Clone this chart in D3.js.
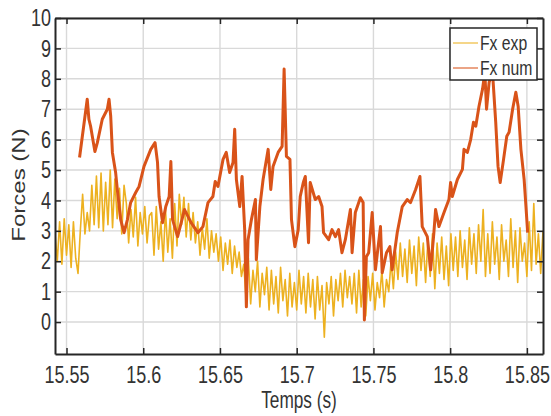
<!DOCTYPE html>
<html lang="en">
<head>
<meta charset="UTF-8">
<title>Forces Fx exp / Fx num</title>
<script src="https://d3js.org/d3.v7.min.js"></script>
<style>
    body { margin: 0; background: #fff; font-family: "Liberation Sans", Arial, sans-serif; }
    .grid line { stroke: #d9d9d9; stroke-width: 1.4; }
    .axis path, .axis line { stroke: #262626; }
    .axis text { font-size: 24px; fill: #333; font-family: "Liberation Sans", Arial, sans-serif; }
</style>
</head>
<body>
<svg id="chart" width="551" height="416"></svg>
<script>
// tick values
const xTicks = [15.55, 15.6, 15.65, 15.7, 15.75, 15.8, 15.85];
const yTicks = [0, 1, 2, 3, 4, 5, 6, 7, 8, 9, 10];
const seriesNames = ["Fx exp", "Fx num"];
const seriesColors = ["#EDB120", "#D95319"];

// Fx exp : sampled every expStep seconds from expStart
const expStart = 15.5425, expStep = 0.0015;
const expForce = [
    2.9, 2.0, 3.3, 1.9, 3.4, 2.2, 3.2, 1.8, 3.3, 2.1, 1.6,
    3.0, 4.2, 2.9, 3.6, 3.0, 4.5, 3.2, 4.8, 3.1,
    4.9, 3.0, 4.6, 3.2, 5.0, 3.1, 4.7, 3.4, 4.4, 2.9, 4.5,
    3.9, 2.6, 3.7, 2.8, 4.1, 2.5, 3.6, 2.9, 3.8, 2.6, 3.5,
    3.6, 2.2, 3.8, 2.4, 3.3, 2.0, 3.7, 2.3, 3.4, 2.1, 3.9, 2.5, 4.2,
    3.2, 4.1, 2.8, 3.9, 2.7, 3.6, 2.6,
    3.3, 2.2, 3.1, 2.4, 3.4, 2.1, 3.0, 2.3, 2.9,
    2.0, 2.8, 1.7, 2.6, 1.9, 2.7, 1.6, 2.5, 1.8, 2.3, 1.5,
    1.9, 0.8, 2.1, 0.6, 1.7, 1.0, 2.0, 0.5, 1.6, 0.9, 1.8,
    0.4, 1.7, 0.6, 1.5, 0.3, 1.8, 0.7, 1.4, 0.2, 1.6, 0.5, 1.3, 0.4, 1.7, 0.6, 1.5,
    0.3, 1.6, 0.5, 1.4, 0.1, 1.5, 0.4, 1.2, -0.5, 1.3, 0.6, 1.5, 0.2, 1.4, 0.7, 1.6, 0.5, 1.7, 0.8, 1.5,
    0.6, 1.6, 0.3, 1.7, 0.5, 1.4, 0.2, 1.5, 0.7, 1.6, 0.4, 1.3, 0.8, 1.7, 0.5, 1.4,
    1.0, 2.0, 1.1, 2.3, 1.4, 2.6, 1.5, 2.4, 1.3, 2.7, 1.6, 2.5, 1.2, 2.8, 1.7, 2.6,
    1.3, 2.7, 1.5, 2.9, 1.1, 2.6, 1.6, 2.8, 1.4, 2.5, 1.2, 2.9, 1.7,
    2.8, 1.5, 3.0, 1.8, 2.7, 1.4, 3.1, 1.9, 2.9, 1.6, 3.2, 2.0, 3.7, 1.5,
    2.9, 1.6, 3.3, 1.9, 2.8, 1.4, 3.2, 2.0, 2.7, 1.5, 3.4, 1.8, 3.0, 1.3, 3.1, 2.0, 2.6, 1.5, 3.3, 1.7, 3.9, 1.9, 2.9, 1.6, 3.0
];

// Fx num : [time, force]
const numPoints = [
    [15.5585, 5.41], [15.5635, 7.33], [15.5646, 6.67], [15.5657, 6.44], [15.5685, 5.61],
    [15.5701, 5.90], [15.5733, 6.67], [15.5766, 7.00], [15.5777, 7.33], [15.5788, 6.77],
    [15.5799, 5.58], [15.5820, 4.92], [15.5831, 4.36], [15.5853, 3.37], [15.5875, 2.94],
    [15.5897, 3.37], [15.5918, 3.93], [15.5951, 4.26], [15.5973, 4.46], [15.6005, 5.12],
    [15.6049, 5.68], [15.6077, 5.90], [15.6093, 5.25], [15.6103, 4.13], [15.6126, 3.27],
    [15.6147, 3.80], [15.6169, 4.13], [15.6180, 5.28], [15.6191, 3.37], [15.6224, 2.81],
    [15.6269, 3.70], [15.6312, 3.27], [15.6356, 2.94], [15.6389, 3.14], [15.6422, 3.93],
    [15.6454, 4.13], [15.6469, 4.62], [15.6487, 4.46], [15.6520, 5.35], [15.6541, 5.58],
    [15.6563, 4.92], [15.6585, 5.25], [15.6596, 6.34], [15.6607, 4.69], [15.6629, 3.80],
    [15.6644, 4.79], [15.6661, 3.04], [15.6672, 0.50], [15.6683, 2.71], [15.6705, 3.37],
    [15.6731, 4.03], [15.6737, 2.05], [15.6760, 3.80], [15.6781, 4.69], [15.6814, 5.68],
    [15.6831, 4.36], [15.6846, 5.12], [15.6879, 5.58], [15.6905, 5.78], [15.6918, 8.32],
    [15.6933, 5.45], [15.6956, 5.35], [15.6966, 3.37], [15.6988, 2.48], [15.7010, 3.04],
    [15.7023, 4.13], [15.7043, 4.59], [15.7056, 4.79], [15.7077, 2.61], [15.7088, 4.59],
    [15.7121, 4.03], [15.7143, 4.13], [15.7165, 3.80], [15.7175, 2.94], [15.7208, 2.71],
    [15.7230, 3.04], [15.7252, 2.81], [15.7273, 3.04], [15.7295, 2.28], [15.7317, 2.71],
    [15.7350, 3.70], [15.7361, 2.28], [15.7382, 3.60], [15.7415, 4.09], [15.7433, 3.93],
    [15.7441, 0.07], [15.7454, 2.15], [15.7469, 2.28], [15.7492, 3.60], [15.7513, 1.72],
    [15.7546, 3.14], [15.7557, 1.62], [15.7585, 2.28], [15.7607, 2.48], [15.7622, 1.72],
    [15.7655, 2.94], [15.7688, 3.80], [15.7720, 4.03], [15.7742, 3.93], [15.7775, 4.36],
    [15.7803, 4.79], [15.7818, 3.14], [15.7851, 2.81], [15.7873, 1.72], [15.7894, 2.94],
    [15.7905, 3.70], [15.7927, 3.14], [15.7960, 3.60], [15.7992, 4.03], [15.8003, 4.59],
    [15.8014, 4.13], [15.8047, 4.69], [15.8080, 5.02], [15.8090, 5.68], [15.8112, 5.58],
    [15.8134, 6.01], [15.8152, 6.57], [15.8167, 6.44], [15.8188, 7.10], [15.8211, 7.66],
    [15.8226, 8.22], [15.8237, 7.00], [15.8254, 7.89], [15.8276, 8.22], [15.8297, 6.57],
    [15.8312, 5.12], [15.8326, 4.59], [15.8348, 5.35], [15.8369, 6.11], [15.8384, 6.24],
    [15.8407, 7.00], [15.8428, 7.56], [15.8443, 7.10], [15.8461, 5.68], [15.8482, 4.69],
    [15.8494, 3.80], [15.8505, 2.94]
];

let svg = d3.select("#chart");
let plotL = 55, plotR = 543, plotT = 18, plotB = 354;
const sx = 0.75; // the original figure is squeezed horizontally

let x = d3.scaleLinear().domain([15.5425, 15.8605]).range([plotL, plotR]);
let y = d3.scaleLinear().domain([-1.05, 10]).range([plotB, plotT]);

// grid
let grid = svg.append("g").attr("class", "grid");
grid.selectAll(".vx").data(xTicks).enter().append("line")
    .attr("x1", d => x(d)).attr("x2", d => x(d))
    .attr("y1", plotT).attr("y2", plotB);
grid.selectAll(".hy").data(yTicks).enter().append("line")
    .attr("x1", plotL).attr("x2", plotR)
    .attr("y1", d => y(d)).attr("y2", d => y(d));

// lines
svg.append("clipPath").attr("id", "plotclip")
    .append("rect").attr("x", plotL).attr("y", plotT)
    .attr("width", plotR - plotL).attr("height", plotB - plotT);

let expData = expForce.map((v, i) => [expStart + i * expStep, v]);

let line = d3.line().x(d => x(d[0])).y(d => y(d[1]));

svg.append("path")
    .datum(expData)
    .attr("clip-path", "url(#plotclip)")
    .attr("d", line)
    .attr("fill", "none")
    .attr("stroke", seriesColors[0])
    .attr("stroke-width", 1.6)
    .attr("stroke-linejoin", "round");

svg.append("path")
    .datum(numPoints)
    .attr("clip-path", "url(#plotclip)")
    .attr("d", line)
    .attr("fill", "none")
    .attr("stroke", seriesColors[1])
    .attr("stroke-width", 3)
    .attr("stroke-linejoin", "round");

// axes, box and inward ticks
let xAxis = svg.append("g").attr("class", "axis")
    .attr("transform", `translate(0,${plotB})`)
    .call(d3.axisBottom(x).tickValues(xTicks).tickSize(-6).tickSizeOuter(0).tickPadding(12)
        .tickFormat(d => String(d)));
xAxis.selectAll("text").attr("transform", `scale(${sx},1)`);

let yAxis = svg.append("g").attr("class", "axis")
    .attr("transform", `translate(${plotL},0)`)
    .call(d3.axisLeft(y).tickValues(yTicks).tickSize(-6).tickSizeOuter(0).tickPadding(5.3));
yAxis.selectAll("text").attr("transform", `scale(${sx},1)`);

svg.append("g").attr("class", "axis")
    .attr("transform", `translate(0,${plotT})`)
    .call(d3.axisTop(x).tickValues(xTicks).tickSize(-6).tickSizeOuter(0).tickFormat(""));
svg.append("g").attr("class", "axis")
    .attr("transform", `translate(${plotR},0)`)
    .call(d3.axisRight(y).tickValues(yTicks).tickSize(-6).tickSizeOuter(0).tickFormat(""));

svg.selectAll(".axis path").attr("stroke-width", 2);
svg.selectAll(".axis line").attr("stroke-width", 1.5);

// axis labels
svg.append("text")
    .attr("transform", `translate(19,185) scale(${sx},1) rotate(-90)`)
    .attr("text-anchor", "middle")
    .attr("dominant-baseline", "central")
    .style("font-size", "24px")
    .style("fill", "#333")
    .text("Forces (N)");

svg.append("text")
    .attr("transform", `translate(299,408) scale(${sx},1)`)
    .attr("text-anchor", "middle")
    .style("font-size", "23px")
    .style("fill", "#333")
    .text("Temps (s)");

// legend
let legend = svg.append("g");
legend.append("rect")
    .attr("x", 450).attr("y", 28).attr("width", 87).attr("height", 52)
    .attr("fill", "white").attr("stroke", "#262626").attr("stroke-width", 1.5);

seriesNames.forEach((name, i) => {
    let ly = 43 + i * 25;
    legend.append("line")
        .attr("x1", 453).attr("x2", 478)
        .attr("y1", ly).attr("y2", ly)
        .attr("stroke", seriesColors[i])
        .attr("stroke-opacity", 0.7)
        .attr("stroke-width", 1.5);
    legend.append("text")
        .attr("transform", `translate(480,${ly}) scale(${sx},1)`)
        .attr("dominant-baseline", "central")
        .style("font-size", "21px")
        .style("fill", "#333")
        .text(name);
});
</script>
</body>
</html>
